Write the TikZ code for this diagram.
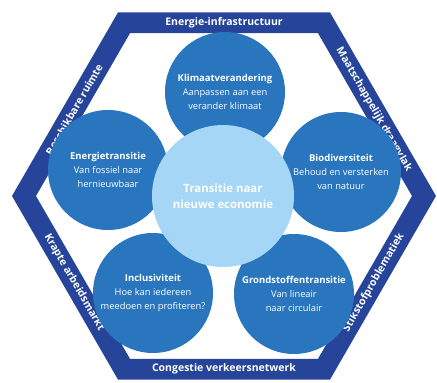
\documentclass[tikz,border=0pt]{standalone}
\usepackage{fontspec}
\setmainfont{Open Sans}
\usetikzlibrary{positioning}
\definecolor{bandblue}{RGB}{38,68,154}
\definecolor{themeblue}{RGB}{42,118,190}
\definecolor{coreblue}{RGB}{166,214,245}

\begin{document}
\begin{tikzpicture}[
        x=1pt,y=1pt,
        band/.style={
            fill=bandblue,
            even odd rule,
        },
        bandlabel/.style={
            text=white,
            font=\fontsize{10.5}{12}\selectfont\bfseries,
            inner sep=0pt,
        },
        theme/.style={
            circle,
            fill=themeblue,
            text=white,
            minimum size=120pt,
            align=center,
            inner sep=0pt,
            font=\fontsize{9.3}{14}\selectfont,
        },
        core/.style={
            circle,
            fill=coreblue,
            text=white,
            minimum size=142pt,
            align=center,
            inner sep=0pt,
            font=\fontsize{11.4}{16}\selectfont\bfseries,
        }
    ]
    \useasboundingbox (-224,-187) rectangle (213,196);
    % hexagon band
    \fill[band] (0:212)
        \foreach \a in {60,120,...,300}{
            -- (\a:212)
        } -- cycle
        (0:188)
        \foreach \a in {60,120,...,300}{
            -- (\a:188)
        } -- cycle;
    \foreach \ang/\rot/\txt in {90/0/Energie-infrastructuur,
            30/-60/Maatschappelijk draagvlak,
            150/60/Beschikbare ruimte,
            210/-60/Krapte arbeidsmarkt,
            330/60/Stikstofproblematiek,
            270/0/Congestie verkeersnetwerk}{
        \node[bandlabel,rotate=\rot] (band\ang) at (\ang:173) {\txt};
    }
    % themes
    \foreach \name/\pos/\title/\sub in {
            klimaat/{(1,104)}/Klimaatverandering/{Aanpassen aan een\\verander klimaat},
            energie/{(-116,26)}/Energietransitie/{Van fossiel naar\\hernieuwbaar},
            biodiv/{(117,24)}/Biodiversiteit/{Behoud en versterken\\van natuur},
            inclusief/{(-71,-97)}/Inclusiviteit/{Hoe kan iedereen\\meedoen en profiteren?},
            grondstof/{(70,-98)}/Grondstoffentransitie/{Van lineair\\naar circulair}}{
        \node[theme] (\name) at \pos {{\fontsize{9.5}{14}\selectfont\bfseries\title}\\\sub};
    }
    \node[core] (centre) at (-1,0) {Transitie naar\\nieuwe economie};
\end{tikzpicture}
\end{document}
